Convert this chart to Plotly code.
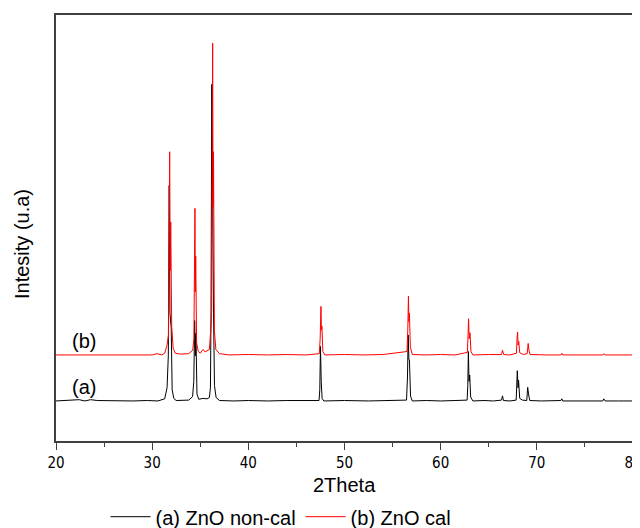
import plotly.graph_objects as go

# 2-theta positions and intensities (a.u.)
x_a = [20.0, 21.5, 22.4, 23.0, 23.6, 24.3, 26.0, 28.0, 29.5, 30.6, 31.3, 31.55, 31.68, 31.77, 31.85, 31.98, 32.08, 32.25, 32.5,
       33.2, 33.8, 34.2, 34.33, 34.42, 34.49, 34.55, 34.66, 34.85, 35.3, 35.7, 35.95, 36.06, 36.12, 36.2, 36.3, 36.38, 36.48, 36.65, 37.0,
       38.5, 40.0, 42.0, 44.0, 46.0, 47.35, 47.43, 47.5, 47.58, 47.67, 47.85, 50.0, 52.5, 55.0, 56.45, 56.55, 56.62, 56.7, 56.75, 56.87, 57.05,
       58.5, 60.0, 61.5, 62.75, 62.82, 62.88, 62.95, 63.02, 63.12, 63.35, 64.5, 65.5, 66.33, 66.43, 66.53, 67.2, 67.85, 67.92, 67.97, 68.05,
       68.1, 68.22, 68.5, 68.95, 69.05, 69.15, 69.27, 70.5, 72.5, 72.6, 72.7, 75.0, 76.85, 76.96, 77.1, 78.5, 80.0]
y_a = [9.4, 9.5, 9.7, 9.4, 9.7, 9.5, 9.4, 9.4, 9.5, 9.4, 9.9, 12.5, 20.0, 60.0, 30.0, 26.5, 12.0, 10.0, 9.5,
       9.5, 9.6, 10.4, 14.0, 28.3, 20.0, 25.3, 11.0, 9.8, 10.0, 9.9, 10.2, 12.5, 30.0, 83.7, 40.0, 30.1, 13.0, 10.2, 9.5,
       9.4, 9.5, 9.4, 9.5, 9.4, 9.5, 12.0, 22.2, 14.0, 10.0, 9.4, 9.5, 9.4, 9.5, 9.6, 15.0, 24.9, 19.0, 19.0, 10.5, 9.4,
       9.5, 9.4, 9.5, 9.6, 13.0, 21.0, 14.0, 15.5, 10.3, 9.4, 9.5, 9.4, 9.6, 10.6, 9.5, 9.4, 9.6, 13.0, 16.5, 12.5,
       14.3, 10.0, 9.6, 9.5, 12.6, 10.8, 9.5, 9.4, 9.5, 9.9, 9.4, 9.4, 9.4, 9.9, 9.4, 9.4, 9.4]

x_b = [20.0, 22.0, 24.0, 26.0, 28.0, 30.0, 30.5, 31.0, 31.3, 31.55, 31.7, 31.82, 31.88, 31.93, 32.03, 32.18, 32.4, 33.0, 33.8,
       34.22, 34.34, 34.45, 34.49, 34.53, 34.62, 34.8, 35.0, 35.3, 35.5, 35.95, 36.12, 36.18, 36.29, 36.33, 36.38, 36.47, 36.62, 37.0,
       38.0, 40.0, 42.0, 44.0, 46.0, 47.38, 47.47, 47.55, 47.6, 47.65, 47.75, 47.95, 50.0, 52.0, 54.0, 56.5, 56.58, 56.65, 56.7,
       56.75, 56.85, 57.05, 58.5, 60.0, 61.5, 62.78, 62.85, 62.9, 62.97, 63.05, 63.15, 63.35, 65.0, 66.33, 66.43, 66.55, 67.2, 67.88,
       67.94, 68.0, 68.05, 68.12, 68.22, 68.6, 69.0, 69.1, 69.18, 69.3, 71.0, 72.5, 72.6, 72.7, 75.0, 76.85, 76.96, 77.1, 80.0]
y_b = [20.2, 20.2, 20.2, 20.2, 20.3, 20.2, 20.5, 20.2, 20.6, 22.5, 25.0, 67.9, 40.0, 51.4, 27.0, 21.8, 20.6, 20.4, 20.5,
       21.3, 24.0, 54.6, 35.0, 43.4, 23.0, 21.0, 20.6, 21.5, 20.9, 21.5, 27.0, 30.0, 93.4, 55.0, 67.9, 26.0, 21.5, 20.5,
       20.2, 20.3, 20.2, 20.3, 20.2, 20.5, 24.0, 31.6, 26.0, 27.0, 21.0, 20.2, 20.3, 20.2, 20.3, 21.0, 26.0, 34.0, 28.0,
       30.0, 22.0, 20.3, 20.2, 20.3, 20.2, 20.8, 25.0, 28.7, 24.0, 25.4, 21.0, 20.2, 20.3, 20.3, 21.3, 20.3, 20.2, 20.6,
       24.0, 25.6, 22.5, 23.4, 20.7, 20.3, 20.5, 22.9, 21.3, 20.3, 20.2, 20.2, 20.6, 20.2, 20.2, 20.2, 20.5, 20.2, 20.2]

names = ["(a) ZnO non-cal", "(b) ZnO cal"]
labels = ["(a)", "(b)"]
label_x = [22.9, 22.9]
label_y = [9.4, 20.2]

FONT = "Liberation Sans, Arial, sans-serif"
TICKFONT = "DejaVu Sans Condensed, Liberation Sans Narrow, Liberation Sans"

fig = go.Figure()
fig.add_trace(go.Scatter(x=x_a, y=y_a, mode="lines", name=names[0],
                         line=dict(color="#000000", width=1)))
fig.add_trace(go.Scatter(x=x_b, y=y_b, mode="lines", name=names[1],
                         line=dict(color="#ff0000", width=1)))

for t, lx, ly in zip(labels, label_x, label_y):
    fig.add_annotation(x=lx, y=ly, text=t, showarrow=False, xanchor="center",
                       yanchor="bottom", yshift=1,
                       font=dict(family=FONT, size=20, color="#000000"))

# axis titles
fig.add_annotation(xref="paper", yref="paper", x=0.5, y=-0.1033, text="2Theta",
                   showarrow=False, xanchor="center", yanchor="middle",
                   font=dict(family=FONT, size=20, color="#000000"))
fig.add_annotation(xref="paper", yref="paper", x=-0.0589, y=0.4624, text="Intesity (u.a)",
                   textangle=-90, showarrow=False, xanchor="center", yanchor="middle",
                   font=dict(family=FONT, size=20, color="#000000"))

fig.update_layout(
    width=632, height=520, autosize=False,
    margin=dict(l=48, r=7, t=7, b=87, autoexpand=False),
    paper_bgcolor="white", plot_bgcolor="white",
    font=dict(family=FONT, color="#000000"),
    showlegend=True,
    legend=dict(orientation="h", x=0.39, xanchor="center", y=-0.1777, yanchor="middle",
                font=dict(family=FONT, size=20, color="#000000"), itemwidth=40,
                bgcolor="rgba(0,0,0,0)"),
)
fig.update_xaxes(range=[20, 80], showgrid=False, zeroline=False, automargin=False,
                 showline=True, mirror=True, linecolor="#404040", linewidth=1.5,
                 ticks="outside", ticklen=7, tickwidth=1, tickcolor="#404040",
                 dtick=10, tick0=20, ticklabeloverflow="allow",
                 minor=dict(ticks="outside", ticklen=4, dtick=5, tickcolor="#404040", showgrid=False),
                 tickfont=dict(family=TICKFONT, size=15))
fig.update_yaxes(range=[0, 100], showgrid=False, zeroline=False, automargin=False,
                 showline=True, mirror=True, linecolor="#404040", linewidth=1.5,
                 showticklabels=False, ticks="")

fig.write_html("out.html")
